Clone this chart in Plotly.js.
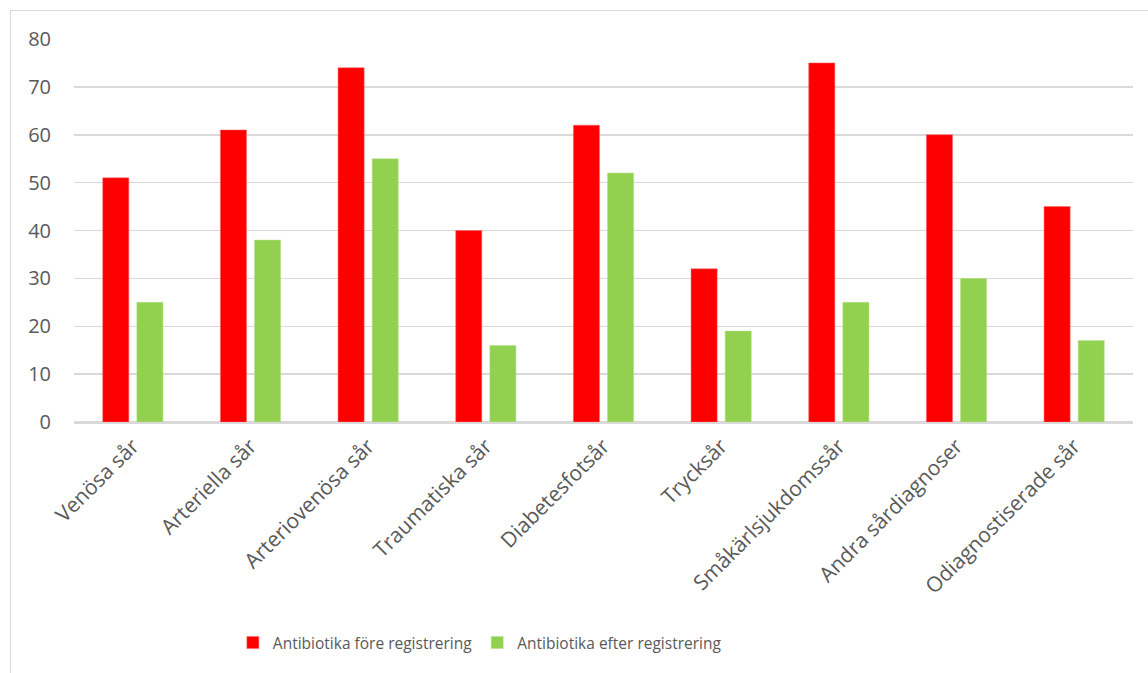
<!DOCTYPE html>
<html>
<head>
<meta charset="utf-8">
<script src="https://cdn.plot.ly/plotly-3.0.1.min.js"></script>
<style>
  html, body { margin: 0; padding: 0; background: #ffffff; overflow: hidden; }
  #frame { position: absolute; left: 10px; top: 10px; width: 1200px; height: 720px; border: 1.5px solid #d9d9d9; box-sizing: border-box; }
  #chart { position: absolute; left: 0; top: 0; width: 1148px; height: 673px; }
</style>
</head>
<body>
<div id="frame"></div>
<div id="chart"></div>
<script>
const categories = ["Venösa sår", "Arteriella sår", "Arteriovenösa sår", "Traumatiska sår", "Diabetesfotsår", "Trycksår", "Småkärlsjukdomssår", "Andra sårdiagnoser", "Odiagnostiserade sår"];
const foreValues = [51, 61, 74, 40, 62, 32, 75, 60, 45];
const efterValues = [25, 38, 55, 16, 52, 19, 25, 30, 17];
const seriesNames = ["Antibiotika före registrering", "Antibiotika efter registrering"];
const yTicks = [0, 10, 20, 30, 40, 50, 60, 70, 80];

const font = "'Open Sans', 'Noto Sans', sans-serif";
const grey = "#595959";

const data = [
  { type: "bar", x: categories, y: foreValues, name: seriesNames[0],
    marker: { color: "#ff0000", line: { color: "#ff6666", width: 0.5 } }, hoverinfo: "x+y" },
  { type: "bar", x: categories, y: efterValues, name: seriesNames[1],
    marker: { color: "#92d050", line: { color: "#b5e08a", width: 0.5 } }, hoverinfo: "x+y" }
];

const layout = {
  width: 1148, height: 673,
  paper_bgcolor: "rgba(0,0,0,0)", plot_bgcolor: "rgba(0,0,0,0)",
  margin: { l: 74, r: 15, t: 39, b: 251 },
  barmode: "group", bargap: 0.42, bargroupgap: 0.235,
  font: { family: font, size: 17, color: grey },
  xaxis: {
    type: "category", tickangle: -45, tickfont: { family: font, size: 21, color: grey },
    showgrid: false, showline: true, linecolor: "#d9d9d9", linewidth: 1.5, ticks: "",
    ticklabelstandoff: 2
  },
  yaxis: {
    range: [0, 80], tickvals: yTicks, ticktext: yTicks.map(String),
    tickfont: { family: font, size: 20, color: grey },
    showgrid: true, gridcolor: "#d9d9d9", gridwidth: 1.5, zeroline: true, zerolinecolor: "#d9d9d9", zerolinewidth: 1.5,
    showline: false, ticks: "", ticklabelstandoff: 22
  },
  legend: {
    orientation: "h", x: 0.150, xanchor: "left", y: -0.577, yanchor: "middle",
    font: { family: font, size: 15.5, color: grey }, itemwidth: 30, tracegroupgap: 0
  },
  showlegend: true
};

Plotly.newPlot("chart", data, layout, { displayModeBar: false, staticPlot: true });
</script>
</body>
</html>
